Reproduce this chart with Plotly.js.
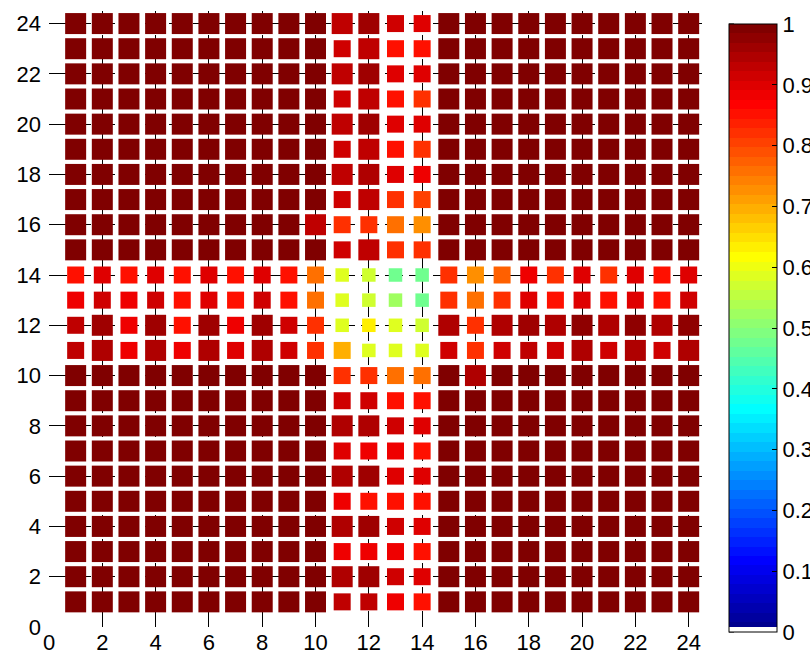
<!DOCTYPE html>
<html><head><meta charset="utf-8">
<script src="https://cdn.plot.ly/plotly-3.0.1.min.js"></script>
<style>html,body{margin:0;padding:0;background:#fff;}#chart{width:810px;height:658px;}</style>
</head><body><div id="chart"></div>
<script>
const xCats = [1,2,3,4,5,6,7,8,9,10,11,12,13,14,15,16,17,18,19,20,21,22,23,24];
const yCats = [1,2,3,4,5,6,7,8,9,10,11,12,13,14,15,16,17,18,19,20,21,22,23,24];
const cbTicks = [0,0.1,0.2,0.3,0.4,0.5,0.6,0.7,0.8,0.9,1];

// values per row (y = 1 ... 24), columns x = 1 ... 24
const row01 = [1,1,1,1,1,1,1,1,1,0.992,0.925,0.925,0.875,0.859,1,1,1,1,1,1,1,1,1,1];
const row02 = [1,1,1,1,1,1,1,1,1,1,0.942,0.958,0.908,0.897,1,1,1,1,1,1,1,1,1,1];
const row03 = [1,1,1,1,1,1,1,1,1,0.992,0.875,0.875,0.875,0.844,1,1,1,1,1,1,1,1,1,1];
const row04 = [1,1,1,1,1,1,1,1,1,1,0.942,0.958,0.908,0.897,1,1,1,1,1,1,1,1,1,1];
const row05 = [1,1,1,1,1,1,1,1,1,0.992,0.875,0.859,0.844,0.844,1,1,1,1,1,1,1,1,1,1];
const row06 = [1,1,1,1,1,1,1,1,1,1,0.945,0.958,0.897,0.897,1,1,1,1,1,1,1,1,1,1];
const row07 = [1,1,1,1,1,1,1,1,1,0.992,0.892,0.875,0.875,0.844,1,1,1,1,1,1,1,1,1,1];
const row08 = [1,1,1,1,1,1,1,1,1,1,0.942,0.952,0.908,0.897,1,1,1,1,1,1,1,1,1,1];
const row09 = [1,1,1,1,1,1,1,1,1,0.992,0.908,0.92,0.859,0.844,1,1,1,1,1,1,1,1,1,1];
const row10 = [1,1,1,1,1,1,1,1,1,0.992,0.828,0.8125,0.765,0.75,0.992,0.952,1,1,1,1,1,1,1,1];
const row11 = [0.925,0.942,0.875,0.942,0.875,0.942,0.892,0.942,0.908,0.828,0.6875,0.579,0.579,0.579,0.908,0.8125,0.908,0.925,0.908,0.942,0.908,0.942,0.908,0.942];
const row12 = [0.925,0.958,0.875,0.958,0.844,0.958,0.875,0.958,0.908,0.8125,0.579,0.625,0.579,0.563,0.942,0.828,0.942,0.958,0.942,0.975,0.942,0.975,0.942,0.975];
const row13 = [0.875,0.908,0.875,0.908,0.859,0.892,0.859,0.908,0.844,0.765,0.579,0.563,0.516,0.469,0.828,0.765,0.828,0.892,0.844,0.892,0.844,0.892,0.844,0.908];
const row14 = [0.844,0.892,0.844,0.892,0.844,0.892,0.844,0.892,0.844,0.75,0.579,0.563,0.469,0.469,0.82,0.734,0.78,0.875,0.8125,0.892,0.8125,0.892,0.844,0.892];
const row15 = [1,1,1,1,1,1,1,1,1,0.992,0.908,0.937,0.828,0.8125,1,1,1,1,1,1,1,1,1,1];
const row16 = [1,1,1,1,1,1,1,1,1,0.935,0.8125,0.828,0.765,0.734,1,1,1,1,1,1,1,1,1,1];
const row17 = [1,1,1,1,1,1,1,1,1,0.992,0.908,0.937,0.828,0.797,1,1,1,1,1,1,1,1,1,1];
const row18 = [1,1,1,1,1,1,1,1,1,1,0.935,0.952,0.897,0.875,1,1,1,1,1,1,1,1,1,1];
const row19 = [1,1,1,1,1,1,1,1,1,0.992,0.908,0.937,0.844,0.8125,1,1,1,1,1,1,1,1,1,1];
const row20 = [1,1,1,1,1,1,1,1,1,1,0.935,0.968,0.892,0.892,1,1,1,1,1,1,1,1,1,1];
const row21 = [1,1,1,1,1,1,1,1,1,0.992,0.908,0.937,0.844,0.8125,1,1,1,1,1,1,1,1,1,1];
const row22 = [1,1,1,1,1,1,1,1,1,1,0.937,0.968,0.892,0.892,1,1,1,1,1,1,1,1,1,1];
const row23 = [1,1,1,1,1,1,1,1,1,0.992,0.908,0.937,0.844,0.844,1,1,1,1,1,1,1,1,1,1];
const row24 = [1,1,1,1,1,1,1,1,1,1,0.937,0.968,0.908,0.892,1,1,1,1,1,1,1,1,1,1];

const rowsData = [row01,row02,row03,row04,row05,row06,row07,row08,row09,row10,row11,row12,
  row13,row14,row15,row16,row17,row18,row19,row20,row21,row22,row23,row24];

// MATLAB jet(64) stepped colour scale (style)
function jetRow(k){ // k = 1..64
  function u(j){ if (j<1||j>47) return 0; if (j<=16) return j/16; if (j<=31) return 1; return (48-j)/16; }
  return [u(k-24), u(k-8), u(k+8)];
}
const colorscale = [];
for (let k=1;k<=64;k++){
  const c = jetRow(k).map(v=>Math.round(v*255));
  const col = 'rgb('+c.join(',')+')';
  let a = (k-1)/64, b = k/64;
  if (k===1){ colorscale.push([0,'rgb(255,255,255)']); colorscale.push([0.008,'rgb(255,255,255)']); a = 0.008; }
  colorscale.push([a,col]); colorscale.push([b,col]);
}

function sizeFor(v){ return v >= 0.93 ? 21 : (v >= 0.66 ? 17 : 13.5); }

const xs=[], ys=[], vs=[], ss=[];
rowsData.forEach((row,ri)=>{
  row.forEach((v,ci)=>{ xs.push(xCats[ci]); ys.push(yCats[ri]); vs.push(v); ss.push(sizeFor(v)); });
});

const FONT = 'Liberation Sans, Arial, Helvetica, sans-serif';
const FS = 22;
const W=810, H=658, ML=49, MR=108, MT=11, MB=31;
const plotW = W-ML-MR, plotH = H-MT-MB;
const cbX = (729-ML)/plotW;
const cbLen = 608;
const cbY = ((H-MB) - 632)/plotH;

const shapes = cbTicks.map(t=>({
  type:'line', xref:'paper', yref:'paper', xsizemode:'pixel', xanchor:cbX,
  x0:0, x1:5, y0: cbY + t*cbLen/plotH, y1: cbY + t*cbLen/plotH,
  line:{color:'#000', width:1}
}));

const trace = {
  type:'scatter', mode:'markers', x:xs, y:ys, hoverinfo:'skip',
  marker:{
    symbol:'square', size:ss, color:vs, cmin:0, cmax:1, colorscale:colorscale,
    opacity:1, line:{width:0},
    showscale:true,
    colorbar:{
      x:cbX, xanchor:'left', y:cbY, yanchor:'bottom',
      thickness:48, thicknessmode:'pixels', len:cbLen, lenmode:'pixels',
      xpad:0, ypad:0, outlinewidth:1, outlinecolor:'#000', borderwidth:0,
      tickmode:'array', tickvals:cbTicks, ticks:'inside', ticklen:5, tickcolor:'#000',
      ticklabelstandoff:2,
      tickfont:{family:FONT, size:FS, color:'#000'}
    }
  }
};

const axisCommon = {
  range:[0,24.5], tick0:0, dtick:2, ticks:'inside', ticklen:5, tickwidth:1, tickcolor:'#000',
  showgrid:true, gridcolor:'#000', gridwidth:1, griddash:'18px,6px',
  zeroline:false, showline:false, fixedrange:true, automargin:false,
  tickfont:{family:FONT, size:FS, color:'#000'}
};

const layout = {
  width:W, height:H, margin:{l:ML, r:MR, t:MT, b:MB, pad:0, autoexpand:false},
  paper_bgcolor:'#fff', plot_bgcolor:'#fff', showlegend:false,
  xaxis: Object.assign({}, axisCommon),
  yaxis: Object.assign({}, axisCommon, {ticklabelstandoff:7}),
  shapes: shapes
};

Plotly.newPlot('chart',[trace],layout,{displayModeBar:false, staticPlot:true});
</script></body></html>
